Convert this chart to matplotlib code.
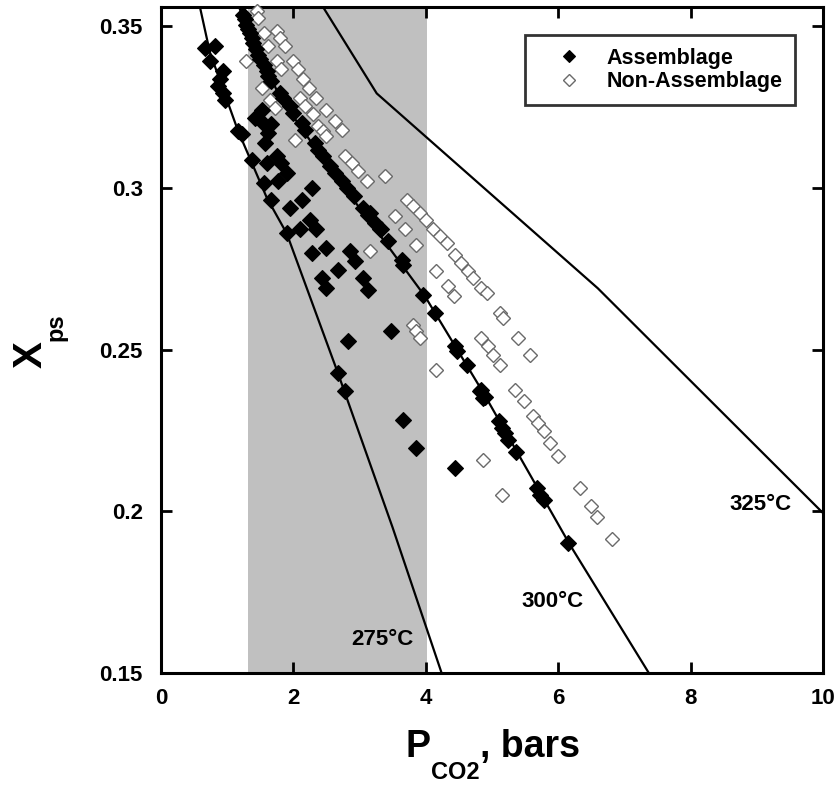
"""Xps vs PCO2 with isotherms"""
import matplotlib
matplotlib.use('Agg')
from matplotlib import pyplot as plt
from matplotlib.transforms import IdentityTransform

plt.rcParams['font.family'] = ['Liberation Sans', 'DejaVu Sans']
plt.rcParams['font.weight'] = 'bold'

# isotherms (PCO2 in bars, Xps)
T275_X = [0.59, 0.74, 1.16, 1.60, 1.90, 2.67, 3.50, 4.24]
T275_Y = [0.356, 0.342, 0.318, 0.297, 0.286, 0.243, 0.195, 0.150]
T300_X = [1.18, 1.24, 1.80, 2.45, 3.36, 3.99, 4.87, 6.18, 7.37]
T300_Y = [0.356, 0.353, 0.328, 0.309, 0.284, 0.2665, 0.2367, 0.1896, 0.150]
T325_X = [2.45, 3.26, 4.19, 6.60, 10.0]
T325_Y = [0.356, 0.3293, 0.3125, 0.269, 0.1995]

# shaded PCO2 window
SHADE = (1.31, 4.02)

ASSEM_X = [0.665, 0.816, 0.74, 0.94, 0.89, 0.866, 0.94, 0.967, 1.17, 1.22, 1.37, 1.55,
           1.67, 1.90,
           1.52, 1.42, 1.55, 1.67, 1.62, 1.57, 1.75, 1.82, 1.90, 1.77, 1.60, 2.28, 2.13,
           1.95, 2.25, 2.35, 2.10,
           2.28, 2.50, 2.85, 2.93, 2.68, 2.43, 2.50, 3.06, 3.13, 3.48, 2.83, 2.68, 2.78,
           3.66, 3.86, 4.44,
           1.24, 1.27, 1.29, 1.32, 1.34, 1.37, 1.39, 1.44, 1.47, 1.50, 1.55, 1.60, 1.62,
           1.67, 1.80, 1.85, 1.95, 2.00, 2.13, 2.18, 2.33, 2.38, 2.45, 2.55, 2.63, 2.73,
           2.81, 2.91, 3.06, 3.13, 3.23, 3.31, 3.43,
           3.16, 3.33, 3.64, 3.66, 3.96, 4.14, 4.44, 4.47, 4.62, 4.84, 4.89,
           4.82, 4.87, 5.10, 5.15, 5.20, 5.25, 5.37, 5.68, 5.73, 5.78, 6.15]
ASSEM_Y = [0.3434, 0.3439, 0.3393, 0.3362, 0.3336, 0.3315, 0.3295, 0.3274, 0.3176, 0.3166,
           0.3088, 0.3016, 0.2964, 0.2861,
           0.3243, 0.3217, 0.3197, 0.3197, 0.3171, 0.3140, 0.3098, 0.3078, 0.3047, 0.3021,
           0.3078, 0.3000, 0.2964, 0.2939, 0.2902, 0.2872, 0.2872,
           0.2799, 0.2815, 0.2804, 0.2773, 0.2748, 0.2722, 0.2691, 0.2722, 0.2686, 0.2557,
           0.2526, 0.2428, 0.2371, 0.2283, 0.2196, 0.2134,
           0.3537, 0.3522, 0.3506, 0.3491, 0.3480, 0.3465, 0.3449, 0.3429, 0.3413, 0.3398,
           0.3382, 0.3362, 0.3346, 0.3331, 0.3295, 0.3279, 0.3253, 0.3233, 0.3202, 0.3181,
           0.3140, 0.3119, 0.3098, 0.3067, 0.3047, 0.3021, 0.3000, 0.2975, 0.2939, 0.2918,
           0.2892, 0.2872, 0.2835,
           0.2923, 0.2872, 0.2779, 0.2763, 0.2670, 0.2614, 0.2510, 0.2495, 0.2454, 0.2376,
           0.2355,
           0.2371, 0.2350, 0.2278, 0.2258, 0.2242, 0.2221, 0.2185, 0.2072, 0.2051, 0.2036,
           0.1902]

NONASSEM_X = [1.45, 1.47, 1.55, 1.62, 1.29, 1.75, 1.80, 1.87, 1.75, 1.82, 2.00, 2.07,
              2.15, 2.23, 2.35, 2.50, 2.63, 2.73, 1.52, 1.65, 1.72, 2.10, 2.18, 2.30,
              2.38, 2.45, 2.50, 2.02, 2.78, 2.88, 2.98, 3.11, 3.38, 3.53, 3.69, 3.71,
              3.81, 3.91, 4.01, 4.11, 4.21, 3.86, 4.32,
              4.44, 4.54, 4.64, 4.72, 4.84, 4.92, 5.12, 5.17, 3.16, 4.16, 4.34, 4.42,
              3.81, 3.86, 3.91, 4.16, 4.84, 4.94, 5.02, 5.12, 5.40, 5.57, 5.35, 5.48,
              5.62, 5.70, 5.78, 5.88, 6.00, 4.87, 5.15, 6.33, 6.50, 6.58, 6.81]
NONASSEM_Y = [0.3548, 0.3527, 0.3480, 0.3439, 0.3393, 0.3486, 0.3465, 0.3439, 0.3393,
              0.3367, 0.3393, 0.3367, 0.3336, 0.3310, 0.3279, 0.3243, 0.3207, 0.3181,
              0.3310, 0.3274, 0.3248, 0.3279, 0.3253, 0.3228, 0.3191, 0.3176, 0.3161,
              0.3150, 0.3098, 0.3078, 0.3052, 0.3021, 0.3037, 0.2913, 0.2872, 0.2964,
              0.2944, 0.2923, 0.2902, 0.2872, 0.2851, 0.2825, 0.2830,
              0.2794, 0.2768, 0.2743, 0.2722, 0.2691, 0.2675, 0.2614, 0.2598, 0.2804,
              0.2743, 0.2697, 0.2666, 0.2577, 0.2557, 0.2536, 0.2438, 0.2536, 0.2510,
              0.2485, 0.2454, 0.2536, 0.2485, 0.2376, 0.2342, 0.2294, 0.2273, 0.2247,
              0.2211, 0.2170, 0.2159, 0.2051, 0.2072, 0.2015, 0.1984, 0.1914]

# label text, position
ISO_LABELS = [('275°C', 3.35, 0.1602), ('300°C', 5.92, 0.1721), ('325°C', 9.05, 0.2020)]


def chain_text(fig, pieces, x0, y0, rotation=0):
    """Writes (text, size, baseline shift) pieces one after another, in pixels"""
    renderer = fig.canvas.get_renderer()
    pos = 0.0
    for txt, size, shift in pieces:
        if rotation == 90:
            x, y = x0 + shift, y0 + pos
        else:
            x, y = x0 + pos, y0 - shift
        t = fig.text(x, y, txt, fontsize=size, fontweight='bold', rotation=rotation,
                     rotation_mode='anchor', ha='left', va='baseline',
                     transform=IdentityTransform())
        bb = t.get_window_extent(renderer)
        pos += bb.height if rotation == 90 else bb.width


fig = plt.figure(figsize=(8.38, 7.88), dpi=100)
ax = fig.add_axes([0.192, 0.146, 0.79, 0.845])

ax.axvspan(SHADE[0], SHADE[1], color='#c0c0c0', lw=0, zorder=0)

for xs, ys in [(T275_X, T275_Y), (T300_X, T300_Y), (T325_X, T325_Y)]:
    ax.plot(xs, ys, color='black', lw=1.6, zorder=2)

ax.plot(ASSEM_X, ASSEM_Y, 'D', ms=7.8, mfc='black', mec='black', mew=0.8,
        ls='none', label='Assemblage', zorder=4, clip_on=False)
ax.plot(NONASSEM_X, NONASSEM_Y, 'D', ms=7.6, mfc='white', mec='#6a6a6a', mew=1.0,
        ls='none', label='Non-Assemblage', zorder=3, clip_on=False)

for txt, x, y in ISO_LABELS:
    ax.text(x, y, txt, fontsize=16, fontweight='bold', ha='center', va='center', zorder=5)

ax.set_xlim(0, 10)
ax.set_ylim(0.15, 0.356)
ax.set_xticks([0, 2, 4, 6, 8, 10])
ax.set_yticks([0.15, 0.2, 0.25, 0.3, 0.35])
ax.set_yticklabels(['0.15', '0.2', '0.25', '0.3', '0.35'])
ax.tick_params(direction='in', length=8, width=2, labelsize=16, top=True, right=True)
ax.tick_params(axis='x', pad=11)
ax.tick_params(axis='y', pad=13)
for lab in ax.get_xticklabels() + ax.get_yticklabels():
    lab.set_fontweight('bold')
for sp in ax.spines.values():
    sp.set_linewidth(2.2)

leg = ax.legend(loc='upper right', bbox_to_anchor=(0.958, 0.958), borderaxespad=0,
                fontsize=15.5, frameon=True, fancybox=False, handlelength=2.8,
                handletextpad=0.35, borderpad=0.6, labelspacing=0.1, markerscale=0.8)
leg.get_frame().set_edgecolor('black')
leg.get_frame().set_linewidth(2)
for t in leg.get_texts():
    t.set_fontweight('bold')

# axis titles, with the subscripts dropped well below the baseline
chain_text(fig, [('P', 27, 0), ('CO2', 17, 22), (', bars', 27, 0)], 406, 31)
chain_text(fig, [('X', 29, 0), ('ps', 17, 20)], 42, 420, rotation=90)

fig.savefig('out.png', dpi=100)
